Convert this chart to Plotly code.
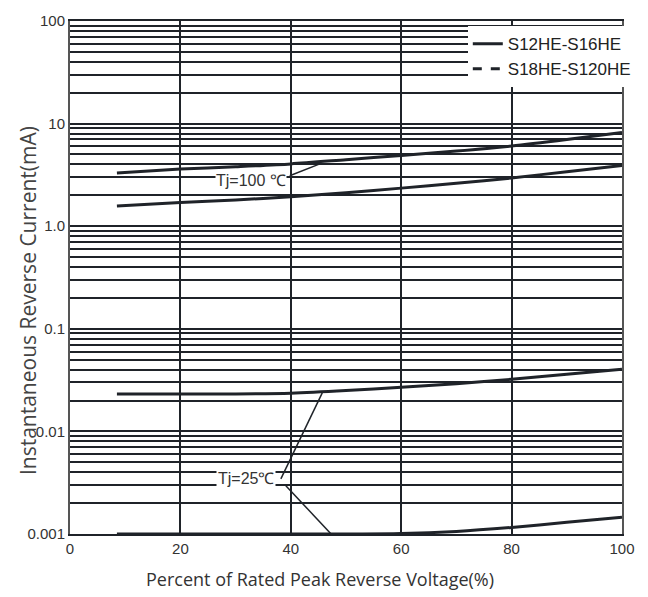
import plotly.graph_objects as go

# ---- data ----
x_pct = [8.5, 20, 30, 40, 50, 60, 70, 80, 90, 100]
tj100_upper = [3.3, 3.6, 3.8, 4.05, 4.45, 4.9, 5.4, 6.05, 7.0, 8.2]
tj100_lower = [1.57, 1.70, 1.80, 1.94, 2.12, 2.35, 2.62, 2.95, 3.4, 3.9]
tj25_upper = [0.0232, 0.0232, 0.0232, 0.0236, 0.0250, 0.0270, 0.0292, 0.0322, 0.0360, 0.0404]
tj25_lower = [0.0010, 0.0010, 0.0010, 0.0010, 0.0010, 0.00101, 0.00106, 0.00116, 0.0013, 0.00146]

legend_names = ["S12HE-S16HE", "S18HE-S120HE"]
y_tickvals = [m * 10 ** e for e in range(-3, 2) for m in range(1, 10)] + [100]
y_major = {0.001: "0.001", 0.01: "0.01", 0.1: "0.1", 1: "1.0", 10: "10", 100: "100"}
x_tickvals = [0, 20, 40, 60, 80, 100]

label_100 = "Tj=100 ℃"
label_25 = "Tj=25℃"
x_title = "Percent of Rated Peak Reverse Voltage(%)"
y_title = "Instantaneous Reverse Current(mA)"

INK = "#1f2329"

fig = go.Figure()
curves = [tj100_upper, tj100_lower, tj25_upper, tj25_lower]
for i, c in enumerate(curves):
    fig.add_trace(go.Scatter(
        x=x_pct, y=c, mode="lines", line=dict(color=INK, width=3, shape="spline", smoothing=0.8),
        name=legend_names[0], showlegend=(i == 0), legendgroup="a"))
fig.add_trace(go.Scatter(
    x=[None], y=[None], mode="lines", line=dict(color=INK, width=3, dash="dash"),
    name=legend_names[1], showlegend=True))

ytext = []
for v in y_tickvals:
    key = None
    for k in y_major:
        if abs(v - k) / k < 1e-6:
            key = k
    ytext.append(y_major[key] if key is not None else "")

fig.update_layout(
    width=648, height=597,
    margin=dict(l=70, r=20, t=14, b=63),
    paper_bgcolor="white", plot_bgcolor="white",
    showlegend=True,
    legend=dict(x=1.025, xanchor="right", y=0.99, yanchor="top", bgcolor="white",
                font=dict(family="Liberation Sans", size=17, color="#222"),
                itemwidth=30, tracegroupgap=0, borderwidth=0),
    xaxis=dict(range=[0, 100], tickvals=x_tickvals, showgrid=True, gridcolor=INK, gridwidth=2,
               showline=True, linecolor=INK, linewidth=2, mirror=True, zeroline=False,
               ticks="", tickfont=dict(family="Liberation Sans", size=15, color="#333")),
    yaxis=dict(type="log", range=[-3, 2], tickvals=y_tickvals, ticktext=ytext,
               showgrid=True, gridcolor=INK, gridwidth=2,
               showline=True, linecolor="#555", linewidth=2, mirror=True, zeroline=False,
               ticks="", tickfont=dict(family="Liberation Sans", size=15, color="#333")),
)

# axis titles
fig.add_annotation(text=x_title, xref="paper", yref="paper", x=0.452, y=-0.088,
                   xanchor="center", yanchor="middle", showarrow=False,
                   font=dict(family="Open Sans", size=18, color="#333"))
fig.add_annotation(text=y_title, xref="paper", yref="paper", x=-0.077, y=0.455,
                   xanchor="center", yanchor="middle", textangle=-90, showarrow=False,
                   font=dict(family="Open Sans", size=21, color="#444"))

# curve labels (annotation y on log axis is log10)
fig.add_annotation(text=label_100, x=32.8, y=0.445, yref="y", xref="x", showarrow=False,
                   bgcolor="white", font=dict(family="Liberation Sans", size=16, color="#333"),
                   borderpad=0)
fig.add_annotation(text=label_25, x=31.9, y=-2.46, yref="y", xref="x", showarrow=False,
                   bgcolor="white", font=dict(family="Liberation Sans", size=16, color="#333"),
                   borderpad=1)

# leader lines
leaders = [
    ((39.8, 3.1), (45.5, 4.1)),
    ((38.2, 0.00345), (45.7, 0.0237)),
    ((39.1, 0.00296), (47.3, 0.0010)),
]
for (x0, y0), (x1, y1) in leaders:
    fig.add_shape(type="line", xref="x", yref="y", x0=x0, y0=y0, x1=x1, y1=y1,
                  line=dict(color=INK, width=1.5))

fig.write_html("out.html", config={"displayModeBar": False},
               post_script="document.body.style.margin='0';document.body.style.padding='0';")
